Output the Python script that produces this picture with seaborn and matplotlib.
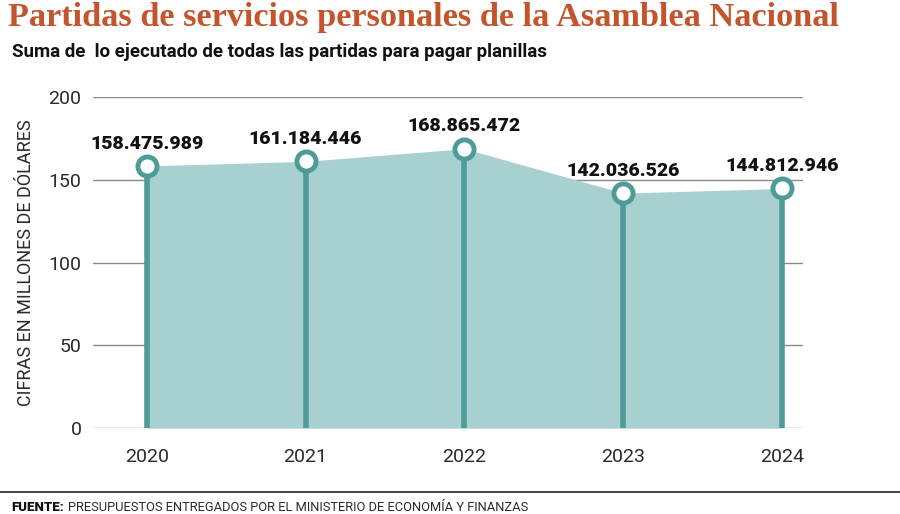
import matplotlib
matplotlib.use("Agg")
import matplotlib.pyplot as plt
import seaborn as sns
import pandas as pd

# data
years = [2020, 2021, 2022, 2023, 2024]
montos = [158475989, 161184446, 168865472, 142036526, 144812946]
etiquetas = ["158.475.989", "161.184.446", "168.865.472", "142.036.526", "144.812.946"]
y_ticks = [0, 50, 100, 150, 200]

df = pd.DataFrame({"anio": years, "millones": [m / 1e6 for m in montos]})

sns.set_theme(style="white")
plt.rcParams["font.family"] = ["Roboto", "DejaVu Sans"]

teal = "#4e9b98"
fill = "#a8d0d0"

fig = plt.figure(figsize=(9, 5.14), dpi=100)
ax = fig.add_axes([0.103, 0.167, 0.789, 0.644])

for t in y_ticks:
    ax.axhline(t, color="#8a8a8a", lw=1, zorder=0)

ax.fill_between(df["anio"], 0, df["millones"], color=fill, lw=0, zorder=1)
ax.vlines(df["anio"], 0, df["millones"], color=teal, lw=4, zorder=2)
sns.scatterplot(data=df, x="anio", y="millones", ax=ax, s=190, color="white",
                edgecolor=teal, linewidth=3.5, zorder=3, legend=False)

for x, y, lab in zip(df["anio"], df["millones"], etiquetas):
    ax.text(x, y + 8, lab, ha="center", va="bottom", fontsize=14,
            fontweight="black", color="#111111")

ax.set_xlim(2019.66, 2024.13)
ax.set_ylim(0, 200)
ax.set_yticks(y_ticks)
ax.set_xticks(years)
ax.tick_params(axis="both", length=0, labelsize=14, colors="#2a2a2a")
ax.tick_params(axis="x", pad=14)
ax.tick_params(axis="y", pad=8)
ax.set_xlabel("")
ax.set_ylabel("CIFRAS EN MILLONES DE DÓLARES", fontsize=13, color="#2a2a2a",
              labelpad=10)
for s in ax.spines.values():
    s.set_visible(False)

fig.text(0.009, 0.965, "Partidas de servicios personales de la Asamblea Nacional",
         fontsize=24.7, fontweight="bold", color="#c4542c", va="center",
         family=["Liberation Serif", "DejaVu Serif"])
fig.text(0.013, 0.898, "Suma de  lo ejecutado de todas las partidas para pagar planillas",
         fontsize=13.5, fontweight="bold", color="#111111", va="center")

fig.add_artist(plt.Line2D([0, 1], [0.043, 0.043], transform=fig.transFigure,
                          color="#222222", lw=1.2))
fig.text(0.012, 0.013, "FUENTE:", fontsize=9.5, fontweight="black", color="#111111", va="center")
fig.text(0.075, 0.013, "PRESUPUESTOS ENTREGADOS POR EL MINISTERIO DE ECONOMÍA Y FINANZAS",
         fontsize=9.3, color="#2a2a2a", va="center")

fig.savefig("out.png", dpi=100)
